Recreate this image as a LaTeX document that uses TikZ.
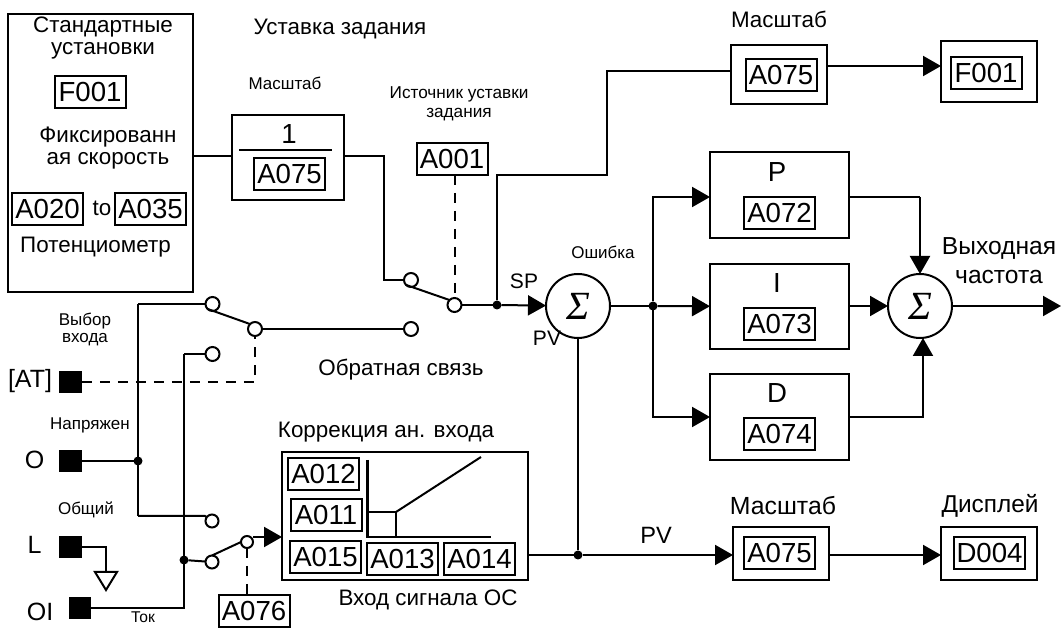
\documentclass[tikz,border=0pt]{standalone}
\usepackage{fontspec}
\setmainfont{Liberation Sans}
\newfontfamily\sumfont{Liberation Serif}
\usetikzlibrary{arrows.meta, positioning}

\begin{document}
\begin{tikzpicture}[
  x=0.5pt, y=-0.5pt, line width=1pt,
  blk/.style={rectangle, draw, outer sep=0pt, inner sep=0pt},
  code/.style={blk, minimum width=35.5pt, minimum height=16pt, font=\fontsize{13.8}{15}\selectfont},
  lbl/.style={inner sep=0pt, align=center, font=\fontsize{11.2}{11}\selectfont},
  lblmid/.style={inner sep=0pt, align=center, font=\fontsize{11.2}{14}\selectfont},
  lblsm/.style={inner sep=0pt, align=center, font=\fontsize{8.5}{9}\selectfont},
  lbltag/.style={inner sep=0pt, align=center, font=\fontsize{12.5}{14}\selectfont},
  contact/.style={circle, draw, fill=white, minimum size=7pt, inner sep=0pt, outer sep=0pt},
  sumnode/.style={circle, draw, fill=white, minimum size=32pt, inner sep=0pt, outer sep=0pt,
                  font=\fontsize{20}{20}\selectfont\sumfont\itshape},
  term/.style={rectangle, fill=black, minimum size=11.3pt, inner sep=0pt, outer sep=0pt},
  dot/.style={circle, fill=black, minimum size=4.5pt, inner sep=0pt, outer sep=0pt},
  arr/.style={-{Triangle[length=9pt,width=10pt]}},
  ctl/.style={dashed, dash pattern=on 5pt off 4pt}
]
\useasboundingbox (0,0) rectangle (1062,630);

% ---- Presets ----
\node[blk, minimum width=92.5pt, minimum height=139pt] (presets) at (100.5,153) {};
\node[lbl] (presetstitle) at (103,38) {Стандартные\\установки};
\node[code] (presetf) at (90,92) {F001};
\node[lbl] (fixedtitle) at (108,148) {Фиксированн\\ая скорость};
\node[code] (fixeda) at (47.5,209) {A020};
\node[lbl] (fixedto) at (102,208) {to};
\node[code] (fixedb) at (150.5,209) {A035};
\node[lbl] (pottitle) at (95.5,247) {Потенциометр};

% ---- Setpoint scale ----
\node[lbl] (sptitle) at (340,29) {Уставка задания};
\node[lblsm] (invtitle) at (285,83) {Масштаб};
\node[blk, minimum width=56pt, minimum height=42.5pt] (invscale) at (288,157.5) {};
\node[code, draw=none] (invone) at (289,134) {1};
\node[code] (invcode) at (289.5,174) {A075};
\coordinate (barl) at (239,150);
\coordinate (barr) at (332,150);
\draw (barl) -- (barr);

% ---- Setpoint switch ----
\node[lblsm, font=\fontsize{8.6}{9.5}\selectfont] (srctitle) at (459,104) {Источник уставки\\задания};
\node[code] (srccode) at (452,159) {A001};
\node[contact] (spin) at (411,280) {};
\node[contact] (spout) at (454.5,305) {};
\node[dot] (spjoin) at (497,305) {};
\coordinate (spbendb) at (384,156);
\coordinate (spbendc) at (384,280);
\coordinate (uppera) at (497,175);
\coordinate (upperb) at (607,175);
\coordinate (upperc) at (607,71);

\draw (presets.east |- spbendb) -- (invscale.west |- spbendb);
\draw (invscale.east |- spbendb) -- (spbendb) -- (spbendc) -- (spin);
\draw (spin.south west) -- (spout.north west);
\draw[ctl] (spout.north |- srccode.south) -- (spout.north);

% ---- Upper scale ----
\node[lbl, font=\fontsize{11.2}{13}\selectfont] (uptitle) at (779,19) {Масштаб};
\node[blk, minimum width=47.75pt, minimum height=29.5pt] (upscale) at (779,74.5) {};
\node[code] (upcode) at (781,75.5) {A075};
\node[blk, minimum width=48pt, minimum height=30.5pt] (upfreq) at (989,71.5) {};
\node[code] (upfreqcode) at (986,73.5) {F001};
\coordinate (upa) at (827,66);

\draw (spjoin) -- (uppera) -- (upperb) -- (upperc) -- (upperc -| upscale.west);
\draw[arr] (upa) -- (upa -| upfreq.west);

% ---- PID ----
\node[sumnode] (errsum) at (578,306) {Σ};
\node[sumnode] (outsum) at (920,306) {Σ};
\node[lblsm] (errtitle) at (603,252) {Ошибка};
\node[lbl, font=\fontsize{10.5}{12}\selectfont] (sptag) at (524,281) {SP};
\node[lbl, font=\fontsize{10.5}{12}\selectfont] (pvtag) at (547,338) {PV};
\node[blk, minimum width=69.5pt, minimum height=43pt] (pbox) at (779.5,195) {};
\node[code, draw=none] (ptag) at (777,172) {P};
\node[code] (pcode) at (779.5,213) {A072};
\node[blk, minimum width=69.5pt, minimum height=42.5pt] (ibox) at (779.5,306.5) {};
\node[code, draw=none] (itag) at (777,283) {I};
\node[code] (icode) at (779.5,324) {A073};
\node[blk, minimum width=69.5pt, minimum height=43pt] (dbox) at (779.5,417) {};
\node[code, draw=none] (dtag) at (777,393) {D};
\node[code] (dcode) at (779.5,434.5) {A074};
\node[dot] (pidjoin) at (653,306) {};
\coordinate (pidup) at (653,197);
\coordinate (piddown) at (653,417);
\coordinate (pout) at (920,197);
\coordinate (dout) at (923,417);
\coordinate (dtip) at (923,338);
\coordinate (freqend) at (1061,306);
\node[lbl, font=\fontsize{12.3}{14.5}\selectfont] (freqtitle) at (999,260.5) {Выходная\\частота};

\draw (spout) -- (spjoin);
\draw[arr] (spjoin) -- (errsum);
\draw (errsum) -- (pidjoin);
\draw[arr] (pidjoin) -- (ibox);
\draw[arr] (pidjoin) -- (pidup) -- (pidup -| pbox.west);
\draw[arr] (pidjoin) -- (piddown) -- (dbox.west);
\draw (pbox.east |- pout) -- (pout);
\draw[arr] (pout) -- (outsum);
\draw[arr] (ibox.east |- outsum) -- (outsum);
\draw[arr] (dbox.east) -- (dout) -- (dtip);
\draw[arr] (outsum) -- (freqend);

% ---- Display ----
\node[dot] (pvjoin) at (578,555) {};
\node[lbl, font=\fontsize{11.8}{14}\selectfont] (pvlabel) at (656,535) {PV};
\node[lbl, font=\fontsize{12.4}{14}\selectfont] (pvtitle) at (783,506) {Масштаб};
\node[blk, minimum width=48pt, minimum height=26.5pt] (pvscale) at (781,553.5) {};
\node[code] (pvcode) at (779.5,553.5) {A075};
\node[lbl, font=\fontsize{12.2}{14}\selectfont] (disptitle) at (990,506) {Дисплей};
\node[blk, minimum width=48pt, minimum height=26.5pt] (dispbox) at (989,553.5) {};
\node[code] (dispcode) at (989.5,553.5) {D004};
\coordinate (dispa) at (829,555);

\draw (errsum) -- (pvjoin);
\draw[arr] (pvjoin) -- (pvjoin -| pvscale.west);
\draw[arr] (dispa) -- (dispa -| dispbox.west);

% ---- Feedback switch ----
\node[contact] (fba) at (212.5,304) {};
\node[contact] (fbb) at (212.5,354) {};
\node[contact] (fbout) at (255,329) {};
\node[contact] (fbend) at (411,329) {};
\node[lbl] (fbtitle) at (401,370) {Обратная связь};
\node[lblsm, font=\fontsize{8.5}{8.5}\selectfont] (seltitle) at (85,329.5) {Выбор\\входа};

% ---- Terminals ----
\node[term] (atterm) at (70.5,382) {};
\node[lbltag] (attag) at (30,381) {[AT]};
\node[lblsm] (voltitle) at (90,425) {Напряжен};
\node[term] (oterm) at (70.5,461) {};
\node[lbltag] (otag) at (34.5,460) {O};
\node[lblsm] (comtitle) at (86,510) {Общий};
\node[term] (lterm) at (70.5,547) {};
\node[lbltag] (ltag) at (34.5,545) {L};
\node[term] (oiterm) at (80,608) {};
\node[lbltag] (oitag) at (40,612) {OI};
\node[lblsm, font=\fontsize{7.8}{9}\selectfont] (curtitle) at (143,617) {Ток};
\node[dot] (ojoin) at (138,461) {};
\node[dot] (oijoin) at (184,560) {};
\coordinate (gndbend) at (106,547);
\coordinate (gnda) at (95,572);
\coordinate (gndb) at (117,572);
\coordinate (gndc) at (106,590);
\coordinate (gndtop) at (106,572);
\coordinate (vbus) at (138,304);
\coordinate (vbusb) at (138,516);
\coordinate (ibus) at (184,354);
\coordinate (ibusb) at (184,608);
\coordinate (ctlbend) at (255,382);

\draw (oterm) -- (ojoin);
\draw (vbus) -- (vbusb);
\draw (vbus) -- (fba);
\draw (ibus) -- (ibusb) -- (oiterm);
\draw (ibus) -- (fbb);
\draw (lterm) -- (gndbend) -- (gndtop);
\draw (gnda) -- (gndb) -- (gndc) -- cycle;
\draw (fba.south west) -- (fbout.north west);
\draw (fbout) -- (fbend);
\draw[ctl] (atterm) -- (ctlbend) -- (fbout);

% ---- Input selector ----
\node[contact, minimum size=6.5pt] (ina) at (212,521) {};
\node[contact, minimum size=6.5pt] (inb) at (212,562) {};
\node[contact, minimum size=6pt] (inout) at (247,542) {};
\node[code] (selcode) at (254,611.5) {A076};
\coordinate (inarr) at (253,537);
\coordinate (ina2) at (205,516);

\draw (vbusb) -- (ina2) -- (ina);
\draw (oijoin) -- (inb);
\draw (inb.north) -- (inout.west);
\draw[ctl] (inout.south) -- (inout.south |- selcode.north);

% ---- Input adjust ----
\node[lblmid] (adjtitle) at (386,432) {Коррекция ан. входа};
\node[blk, minimum width=122.75pt, minimum height=64pt] (adjbox) at (404.75,516) {};
\node[code] (adja) at (323.5,474) {A012};
\node[code] (adjb) at (326,515) {A011};
\node[code] (adjc) at (325.5,557) {A015};
\node[code] (adjd) at (402.5,559) {A013};
\node[code] (adje) at (479.5,559) {A014};
\node[lblmid] (adjfoot) at (428,600) {Вход сигнала ОС};
\coordinate (axorig) at (367.5,537);
\coordinate (axtop) at (367.5,460);
\coordinate (axend) at (491,537);
\coordinate (kneel) at (367.5,512);
\coordinate (knee) at (396,512);
\coordinate (kneeb) at (396,537);
\coordinate (slopeend) at (481,457);

\draw[line width=1.3pt] (axtop) -- (axorig) -- (axend);
\draw (kneel) -- (knee) -- (kneeb);
\draw (knee) -- (slopeend);
\draw[arr] (inarr) -- (inarr -| adjbox.west);
\draw (adjbox.east |- pvjoin) -- (pvjoin);

\end{tikzpicture}
\end{document}
